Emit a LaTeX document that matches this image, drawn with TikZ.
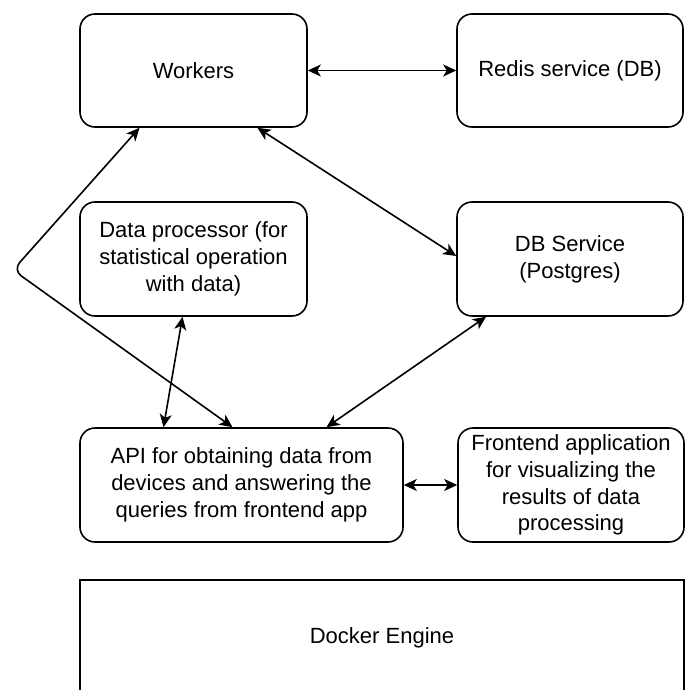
\documentclass[tikz,border=0pt]{standalone}
\usepackage{fontspec}
\setmainfont{Liberation Sans}
\usepackage{tikz}
\usetikzlibrary{arrows.meta}
\usetikzlibrary{calc}

\begin{document}
\begin{tikzpicture}[x=1pt,y=-1pt,line width=1.6pt,
	node font=\fontsize{22}{26.7}\selectfont,
	box/.style={draw,rounded corners=15pt,align=center,inner sep=0pt},
	link/.style={{Stealth[length=13pt,width=12pt,inset=3.5pt]}-{Stealth[length=13pt,width=12pt,inset=3.5pt]}}]
			\clip (0,0) rectangle (685,690);
			\useasboundingbox (0,0) rectangle (685,690);
			\node[box,minimum width=227pt,minimum height=113pt] (workers) at (193.5,70.5) {Workers};
			\node[box,minimum width=226pt,minimum height=113pt] (redis) at (570,70.5) {Redis service (DB)};
			\node[box,minimum width=227pt,minimum height=114pt] (proc) at (193.5,259) {Data processor (for\\statistical operation\\with data)};
			\node[box,minimum width=226pt,minimum height=114pt] (dbsvc) at (570,259) {DB Service\\(Postgres)};
			\node[box,minimum width=323pt,minimum height=114pt] (api) at (241.5,485) {API for obtaining data from\\devices and answering the\\queries from frontend app};
			\node[box,minimum width=226pt,minimum height=114pt] (front) at (571,485) {Frontend application\\for visualizing the\\results of data\\processing};
			\node[draw,minimum width=604pt,minimum height=116pt,inner sep=0pt] (docker) at (382,638) {Docker Engine};
			\coordinate (bend) at (13,270);
			\draw[link] (workers.east) -- (redis.west);
			\draw[link] ([xshift=64pt]workers.south) -- ([yshift=3pt]dbsvc.west);
			\draw[link,rounded corners=10pt] ([xshift=-9pt]api.north) -- (bend) -- ([xshift=-54pt]workers.south);
			\draw[link] ([xshift=-11pt]proc.south) -- ([xshift=-78pt]api.north);
			\draw[link] ([xshift=-84pt]dbsvc.south) -- ([xshift=85pt]api.north);
			\draw[link] (api.east) -- (front.west);
		\end{tikzpicture}
\end{document}
